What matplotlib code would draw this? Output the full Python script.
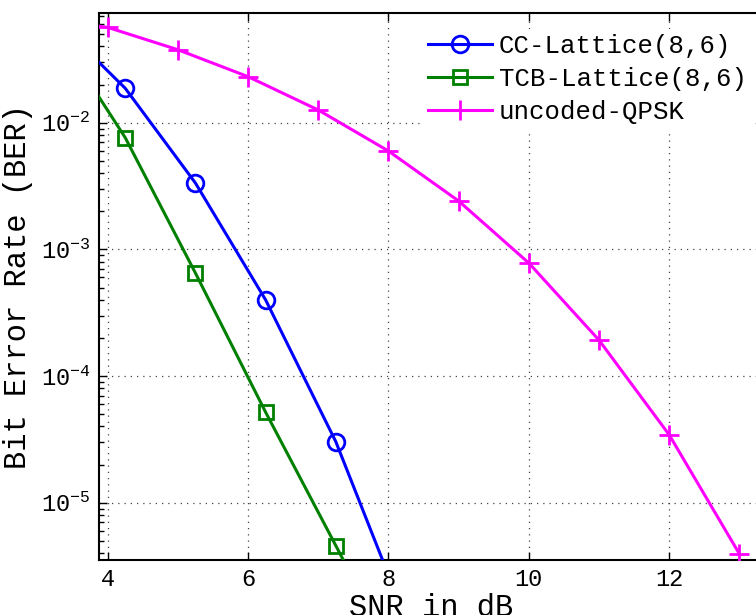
import matplotlib
matplotlib.use("Agg")
import matplotlib.pyplot as plt
from matplotlib.ticker import LogLocator, NullFormatter

# -----------------------------
# Data
# -----------------------------
snr_cc = [3.25, 4.25, 5.25, 6.25, 7.25, 8.25]
ber_cc = [6.6e-2, 1.87e-2, 3.34e-3, 3.99e-4, 3.03e-5, 1.2e-6]

snr_tcb = [3.25, 4.25, 5.25, 6.25, 7.25, 8.25]
ber_tcb = [5.5e-2, 7.62e-3, 6.5e-4, 5.18e-5, 4.58e-6, 4.0e-7]

snr_qpsk = [3, 4, 5, 6, 7, 8, 9, 10, 11, 12, 13]
ber_qpsk = [6.7e-2, 5.66e-2, 3.77e-2, 2.31e-2, 1.26e-2, 5.98e-3,
            2.41e-3, 7.8e-4, 1.92e-4, 3.43e-5, 3.94e-6]

labels = ["CC-Lattice(8,6)", "TCB-Lattice(8,6)", "uncoded-QPSK"]
x_ticks = [4, 6, 8, 10, 12]

plt.rcParams['font.family'] = ['Liberation Mono', 'DejaVu Sans Mono']
plt.rcParams['axes.unicode_minus'] = True

fig = plt.figure(figsize=(7.56, 6.15), dpi=100)
ax = fig.add_axes([99 / 756, 55 / 615, 665 / 756, 547 / 615])

ax.plot(snr_cc, ber_cc, color='#0000ff', linewidth=2.2, marker='o',
        markersize=12, markerfacecolor='none', markeredgewidth=2.0,
        label=labels[0], zorder=3)
ax.plot(snr_tcb, ber_tcb, color='#008000', linewidth=2.2, marker='s',
        markersize=10, markerfacecolor='none', markeredgewidth=2.0,
        label=labels[1], zorder=3)
ax.plot(snr_qpsk, ber_qpsk, color='#ff00ff', linewidth=2.2, marker='+',
        markersize=14, markeredgewidth=2.0, label=labels[2], zorder=3)

ax.set_yscale('log')
ax.set_xlim(3.876, 13.35)
ax.set_ylim(3.53e-6, 7.35e-2)

ax.set_xticks(x_ticks)
ax.yaxis.set_major_locator(LogLocator(base=10, numticks=10))
ax.yaxis.set_minor_locator(LogLocator(base=10, subs=range(2, 10), numticks=20))
ax.yaxis.set_minor_formatter(NullFormatter())

ax.tick_params(which='both', direction='in', top=True, right=True,
               labelsize=17, width=1.0)
ax.tick_params(which='major', length=6, pad=6)
ax.tick_params(which='minor', length=3.5)

for sp in ax.spines.values():
    sp.set_linewidth(1.5)

ax.grid(which='major', color='#444444', linestyle=(0, (1, 4)), linewidth=0.9)

ax.set_xlabel("SNR in dB", fontsize=22, labelpad=1)
ax.set_ylabel("Bit Error Rate (BER)", fontsize=22, labelpad=6)

leg = ax.legend(loc='upper left', bbox_to_anchor=(410 / 756, 1 - 16 / 615),
                bbox_transform=fig.transFigure, fontsize=18.5,
                handlelength=2.5, handletextpad=0.25, labelspacing=0.36,
                borderpad=0.2, fancybox=False, framealpha=1.0)
leg.get_frame().set_edgecolor('white')
leg.get_frame().set_linewidth(0)

fig.savefig("out.png", dpi=100)
